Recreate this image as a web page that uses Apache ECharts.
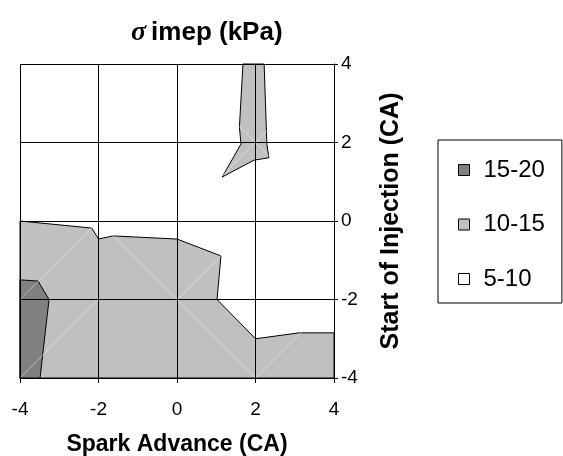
<!DOCTYPE html>
<html>
<head>
<meta charset="utf-8">
<script src="https://cdn.jsdelivr.net/npm/echarts@6/dist/echarts.min.js"></script>
<style>
  html, body { margin: 0; padding: 0; background: #fff; }
  #chart { width: 563px; height: 456px; }
</style>
</head>
<body>
<div id="chart"></div>
<script>
const legends = ['15-20', '10-15', '5-10']
const zoneColors = { '15-20': '#808080', '10-15': '#c0c0c0', '5-10': '#ffffff' }
const axisTicks = [-4, -2, 0, 2, 4]

// contour polygons: [spark advance, start of injection]
const zone510 = [[-4, -4], [4, -4], [4, 4], [-4, 4]]
const zone1015 = [[-4, 0], [-2.17, -0.18], [-2.0, -0.46], [-1.63, -0.38], [0, -0.46], [1.12, -0.89], [1.02, -2.0], [2.0, -3.0], [3.11, -2.85], [4, -2.85], [4, -4], [-4, -4]]
const zone1015top = [[1.68, 4], [1.59, 2.39], [1.63, 1.96], [1.15, 1.12], [1.96, 1.55], [2.34, 1.61], [2.29, 1.96], [2.22, 4]]
const zone1520 = [[-4, -1.5], [-3.54, -1.53], [-3.26, -2.0], [-3.49, -4], [-4, -4]]
// faint triangulation edges that show through the shaded zones
const meshEdges = [
  [[-4, -2], [-2, 0]], [[-2, 0], [0, -2]], [[0, -2], [2, 0]],
  [[-4, -4], [-2, -2]], [[0, -2], [2, -4]], [[2, -4], [4, -2]],
  [[0, 4], [4, 0]], [[0, 0], [4, 4]]
]

const font = "'Liberation Sans', Arial, sans-serif"

function zone(name, points, stroke) {
  const color = zoneColors[name]
  return {
    name: name,
    type: 'custom',
    coordinateSystem: 'cartesian2d',
    silent: true,
    itemStyle: { color: color },
    data: points,
    renderItem: function (params, api) {
      if (params.dataIndex !== 0) return null
      return {
        type: 'polygon',
        shape: { points: points.map(p => api.coord(p)) },
        style: { fill: color, stroke: stroke ? '#000' : null, lineWidth: 1 }
      }
    }
  }
}

const option = {
  animation: false,
  backgroundColor: '#fff',
  title: {
    text: '{s|σ} {b|imep (kPa)}',
    left: 126,
    top: 14,
    textStyle: {
      rich: {
        s: { fontFamily: "'Liberation Serif', serif", fontStyle: 'italic', fontSize: 28, color: '#000' },
        b: { fontFamily: font, fontWeight: 'bold', fontSize: 26, color: '#000' }
      }
    }
  },
  legend: {
    data: legends,
    orient: 'vertical',
    left: 438,
    top: 140,
    padding: [18, 17, 12, 20],
    itemGap: 30.5,
    itemWidth: 11,
    itemHeight: 11,
    icon: 'rect',
    borderColor: '#000',
    borderWidth: 1,
    itemStyle: { borderColor: '#000', borderWidth: 1 },
    textStyle: { color: '#000', fontSize: 24, fontFamily: font, lineHeight: 24, padding: [0, 0, 0, 9] }
  },
  grid: { left: 20, top: 64, width: 314, height: 314, outerBoundsMode: 'none', containLabel: false },
  xAxis: {
    type: 'value',
    min: axisTicks[0],
    max: axisTicks[axisTicks.length - 1],
    interval: 2,
    z: 5,
    name: 'Spark Advance (CA)',
    nameLocation: 'middle',
    nameGap: 55,
    nameTextStyle: { color: '#000', fontWeight: 'bold', fontSize: 23, fontFamily: font },
    axisLine: { show: true, onZero: false, lineStyle: { color: '#000', width: 1 } },
    axisTick: { show: true, length: 5, lineStyle: { color: '#000' } },
    axisLabel: { color: '#000', fontSize: 19, fontFamily: font, margin: 22 },
    splitLine: { show: true, lineStyle: { color: '#000', width: 1 } }
  },
  yAxis: {
    type: 'value',
    position: 'right',
    min: axisTicks[0],
    max: axisTicks[axisTicks.length - 1],
    interval: 2,
    z: 5,
    name: 'Start of Injection (CA)',
    nameLocation: 'middle',
    nameRotate: 90,
    nameGap: 45,
    nameTextStyle: { color: '#000', fontWeight: 'bold', fontSize: 25, fontFamily: font },
    axisLine: { show: true, onZero: false, lineStyle: { color: '#000', width: 1 } },
    axisTick: { show: true, length: 4, lineStyle: { color: '#000' } },
    axisLabel: { color: '#000', fontSize: 19, fontFamily: font, margin: 7 },
    splitLine: { show: true, lineStyle: { color: '#000', width: 1 } }
  },
  series: [
    zone('5-10', zone510, false),
    zone('10-15', zone1015, true),
    zone('10-15', zone1015top, true),
    zone('15-20', zone1520, true),
    {
      type: 'custom',
      coordinateSystem: 'cartesian2d',
      silent: true,
      data: meshEdges.map(e => [e[0][0], e[0][1], e[1][0], e[1][1]]),
      renderItem: function (params, api) {
        const a = api.coord([api.value(0), api.value(1)])
        const b = api.coord([api.value(2), api.value(3)])
        return {
          type: 'line',
          shape: { x1: a[0], y1: a[1], x2: b[0], y2: b[1] },
          style: { stroke: 'rgba(255,255,255,0.45)', lineWidth: 1 }
        }
      }
    }
  ]
}

const myChart = echarts.init(document.getElementById('chart'))
myChart.setOption(option)
</script>
</body>
</html>
